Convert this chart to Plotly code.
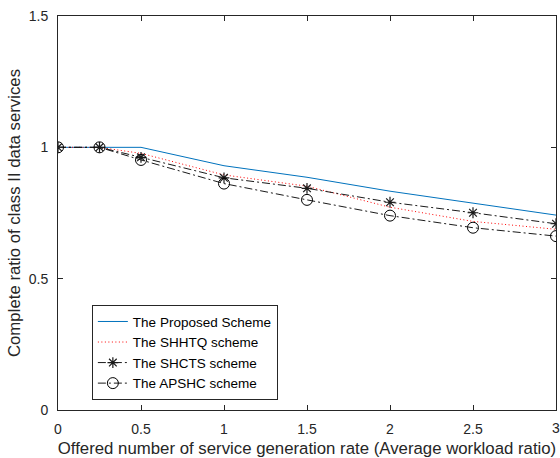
import plotly.graph_objects as go

x = [0, 0.25, 0.5, 1, 1.5, 2, 2.5, 3]
proposed = [1.0, 1.0, 1.0, 0.930, 0.886, 0.833, 0.788, 0.742]
shhtq = [1.0, 1.0, 0.977, 0.895, 0.852, 0.772, 0.718, 0.688]
shcts = [1.0, 1.0, 0.962, 0.884, 0.844, 0.791, 0.751, 0.709]
apshc = [1.0, 1.0, 0.952, 0.862, 0.800, 0.740, 0.694, 0.662]
names = ["The Proposed Scheme", "The SHHTQ scheme", "The SHCTS scheme", "The APSHC scheme"]
xticks = [0, 0.5, 1, 1.5, 2, 2.5, 3]
xticklabels = ["0", "0.5", "1", "1.5", "2", "2.5", "3"]
yticks = [0, 0.5, 1, 1.5]
yticklabels = ["0", "0.5", "1", "1.5"]

FONT = "Liberation Sans, Arial"
TXT = "#262626"
fig = go.Figure()
fig.add_trace(go.Scatter(x=x, y=proposed, name=names[0], mode="lines",
                         line=dict(color="#0072BD", width=1)))
fig.add_trace(go.Scatter(x=x, y=shhtq, name=names[1], mode="lines",
                         line=dict(color="#FF0000", width=1, dash="1px,2.5px")))
fig.add_trace(go.Scatter(x=x, y=shcts, name=names[2], mode="lines+markers",
                         line=dict(color="#1a1a1a", width=1, dash="8px,3px,2px,3px"),
                         marker=dict(symbol="asterisk-open", size=9,
                                     line=dict(color="black", width=1.2))))
fig.add_trace(go.Scatter(x=x, y=apshc, name=names[3], mode="lines+markers",
                         line=dict(color="#1a1a1a", width=1, dash="8px,3px,2px,3px"),
                         marker=dict(symbol="circle-open", size=11, color="black",
                                     line=dict(color="black", width=1))))

axis_common = dict(showgrid=False, zeroline=False, showline=True, linecolor=TXT,
                   linewidth=1, mirror="ticks", ticks="inside", ticklen=5, automargin=False,
                   tickcolor=TXT, tickfont=dict(family=FONT, size=14, color=TXT))
fig.update_xaxes(range=[0, 3], tickvals=xticks, ticktext=xticklabels[:-1] + [""],
                 ticklabelstandoff=6,
                 title=dict(text="Offered number of service generation rate (Average workload ratio)",
                            font=dict(family=FONT, size=16.8, color=TXT),
                            standoff=6),
                 **axis_common)
fig.update_yaxes(range=[0, 1.5], tickvals=yticks, ticktext=yticklabels,
                 ticklabelstandoff=6,
                 title=dict(text="Complete ratio of class II data services",
                            font=dict(family=FONT, size=16.8, color=TXT),
                            standoff=3),
                 **axis_common)
# last x tick label (cut at the right edge, as in the reference)
fig.add_annotation(x=xticks[-1], y=0, xref="x", yref="y", text=xticklabels[-1],
                   showarrow=False, yanchor="top", xanchor="center", yshift=-8,
                   font=dict(family=FONT, size=14, color=TXT))
fig.update_layout(width=560, height=458, margin=dict(l=58, r=4, t=16, b=48),
                  paper_bgcolor="white", plot_bgcolor="white",
                  font=dict(family=FONT, color=TXT),
                  legend=dict(x=0.068, y=0.266, xanchor="left", yanchor="top",
                              bgcolor="white", bordercolor=TXT, borderwidth=1,
                              font=dict(family=FONT, size=13.5, color="#000"),
                              tracegroupgap=0, itemwidth=30))
fig.write_html("out.html", config={"displayModeBar": False},
               post_script="document.body.style.margin='0';document.body.style.overflow='hidden';")
